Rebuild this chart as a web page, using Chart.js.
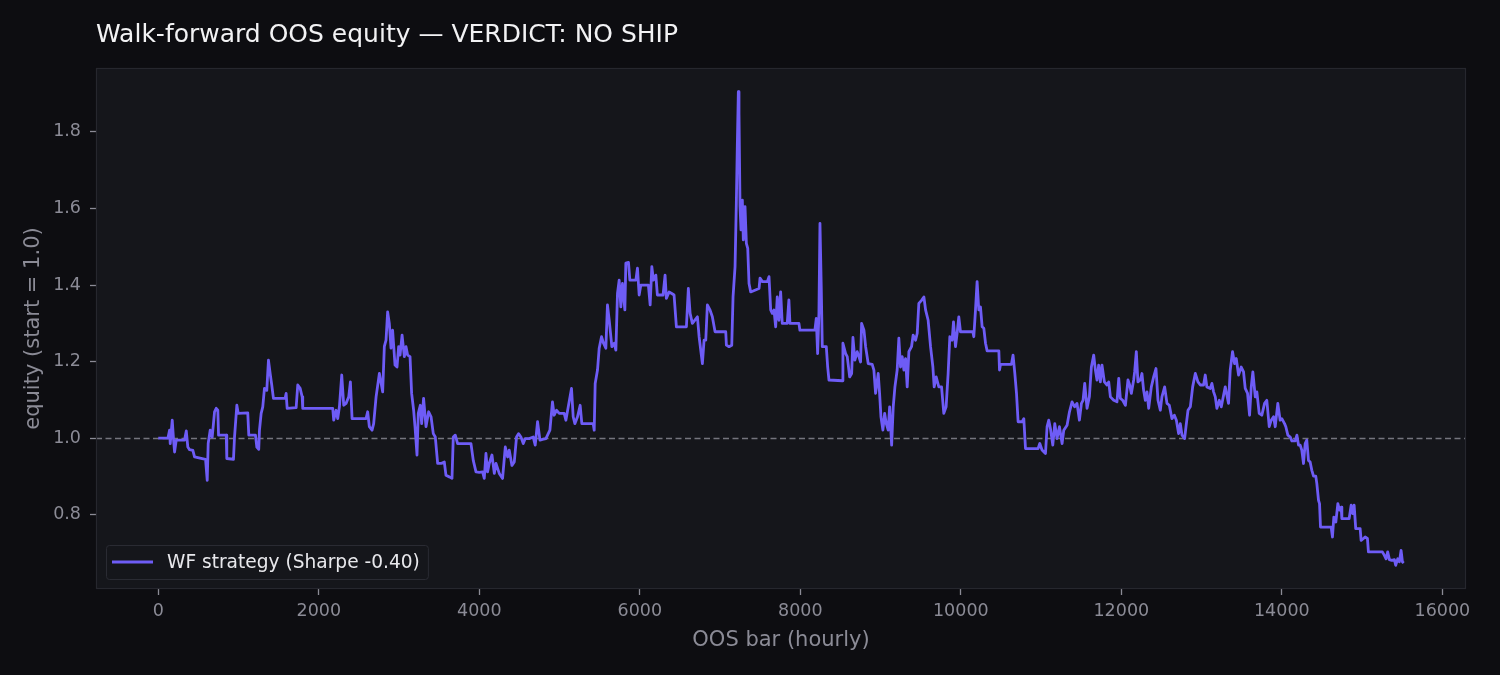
<!DOCTYPE html>
<html>
<head>
<meta charset="utf-8">
<script src="https://cdn.jsdelivr.net/npm/chart.js@4.4.1/dist/chart.umd.min.js"></script>
<style>
  html, body { margin: 0; padding: 0; background: #0d0d11; }
  #wrap { width: 1500px; height: 675px; }
</style>
</head>
<body>
<div id="wrap"><canvas id="equityChart" width="1500" height="675"></canvas></div>
<script>
// OOS bar index (hourly) and equity
const bars = [
  0, 120, 141, 149, 174, 190, 203, 224, 327, 349, 368, 390, 431, 452, 589, 610, 622, 647, 672, 701,
  722, 742, 751, 847, 854, 937, 950, 979, 996, 1115, 1128, 1211, 1228, 1252, 1261, 1282, 1302, 1323, 1352, 1373,
  1394, 1414, 1435, 1581, 1593, 1606, 1718, 1738, 1768, 1793, 1800, 2174, 2186, 2216, 2236, 2257, 2286, 2311, 2340, 2373,
  2394, 2415, 2589, 2609, 2630, 2664, 2684, 2714, 2755, 2796, 2817, 2838, 2858, 2879, 2900, 2920, 2950, 2975, 2995, 3013,
  3038, 3066, 3087, 3107, 3137, 3157, 3182, 3199, 3224, 3240, 3265, 3282, 3306, 3336, 3369, 3399, 3427, 3452, 3481, 3523,
  3564, 3585, 3626, 3660, 3676, 3701, 3730, 3896, 3925, 3959, 4000, 4041, 4062, 4083, 4103, 4124, 4158, 4187, 4208, 4249,
  4290, 4324, 4353, 4373, 4407, 4436, 4464, 4489, 4519, 4548, 4573, 4622, 4672, 4697, 4726, 4756, 4788, 4830, 4880, 4912,
  4933, 4962, 4996, 5058, 5079, 5112, 5149, 5170, 5191, 5224, 5257, 5278, 5419, 5432, 5444, 5473, 5494, 5523, 5548, 5577,
  5597, 5619, 5652, 5681, 5702, 5722, 5743, 5764, 5784, 5814, 5826, 5859, 5876, 5951, 5971, 5992, 6013, 6107, 6129, 6150,
  6170, 6200, 6219, 6290, 6315, 6331, 6365, 6398, 6427, 6456, 6581, 6605, 6627, 6655, 6718, 6739, 6780, 6801, 6822, 6842,
  6875, 6904, 6938, 7071, 7079, 7112, 7146, 7162, 7187, 7203, 7215, 7228, 7236, 7249, 7261, 7278, 7290, 7311, 7328, 7345,
  7361, 7382, 7486, 7498, 7527, 7589, 7610, 7631, 7651, 7672, 7693, 7713, 7734, 7755, 7775, 7837, 7858, 7871, 7983, 7995,
  8182, 8199, 8216, 8232, 8245, 8261, 8274, 8324, 8341, 8357, 8523, 8531, 8565, 8585, 8615, 8640, 8656, 8680, 8709, 8730,
  8751, 8764, 8793, 8814, 8846, 8896, 8917, 8938, 8971, 8988, 9005, 9029, 9051, 9071, 9095, 9113, 9138, 9158, 9179, 9207,
  9228, 9249, 9270, 9291, 9312, 9332, 9353, 9386, 9406, 9436, 9457, 9477, 9511, 9540, 9561, 9593, 9623, 9652, 9668, 9693,
  9726, 9760, 9788, 9817, 9842, 9863, 9892, 9909, 9934, 9954, 9975, 9996, 10150, 10162, 10183, 10203, 10224, 10245, 10266, 10287,
  10308, 10328, 10474, 10482, 10495, 10631, 10651, 10673, 10694, 10714, 10764, 10785, 10806, 10963, 10984, 11012, 11055, 11075, 11096, 11117,
  11146, 11171, 11199, 11229, 11262, 11283, 11324, 11354, 11386, 11419, 11448, 11478, 11503, 11523, 11544, 11573, 11602, 11627, 11656, 11677,
  11697, 11718, 11739, 11759, 11789, 11822, 11843, 11864, 11905, 11946, 11968, 11988, 12017, 12051, 12083, 12104, 12125, 12154, 12166, 12187,
  12207, 12237, 12257, 12278, 12299, 12320, 12341, 12374, 12403, 12432, 12457, 12486, 12506, 12540, 12569, 12598, 12631, 12661, 12686, 12714,
  12735, 12756, 12789, 12806, 12831, 12860, 12889, 12922, 12955, 12984, 13025, 13046, 13066, 13108, 13129, 13150, 13171, 13191, 13221, 13246,
  13274, 13295, 13336, 13357, 13386, 13411, 13432, 13461, 13494, 13523, 13544, 13573, 13598, 13619, 13639, 13669, 13689, 13718, 13751, 13785,
  13813, 13843, 13868, 13897, 13918, 13950, 13979, 14000, 14034, 14050, 14075, 14105, 14125, 14167, 14188, 14208, 14229, 14249, 14270, 14291,
  14311, 14332, 14353, 14374, 14395, 14423, 14436, 14457, 14470, 14482, 14615, 14631, 14648, 14673, 14698, 14719, 14740, 14748, 14839, 14864,
  14884, 14901, 14921, 14976, 14988, 15017, 15038, 15067, 15079, 15253, 15278, 15299, 15319, 15341, 15369, 15403, 15419, 15444, 15465, 15486,
  15503, 15519
];
const equity = [
  1.000, 1.000, 1.021, 0.986, 1.047, 0.997, 0.964, 0.995, 0.995, 1.019, 0.977, 0.970, 0.968, 0.951, 0.945, 0.890, 0.986, 1.021, 1.003, 1.069,
  1.078, 1.073, 1.008, 1.008, 0.947, 0.945, 1.003, 1.086, 1.065, 1.066, 1.008, 1.008, 0.977, 0.971, 1.021, 1.065, 1.082, 1.130, 1.125, 1.204,
  1.169, 1.139, 1.104, 1.104, 1.117, 1.078, 1.080, 1.139, 1.130, 1.108, 1.078, 1.078, 1.047, 1.073, 1.051, 1.082, 1.165, 1.086, 1.091, 1.108,
  1.147, 1.051, 1.051, 1.069, 1.030, 1.021, 1.038, 1.108, 1.169, 1.121, 1.240, 1.256, 1.330, 1.300, 1.235, 1.282, 1.191, 1.186, 1.239, 1.217,
  1.269, 1.213, 1.239, 1.217, 1.213, 1.117, 1.073, 1.030, 0.956, 1.065, 1.086, 1.038, 1.104, 1.030, 1.069, 1.056, 1.012, 1.003, 0.934, 0.934,
  0.938, 0.903, 0.899, 0.895, 1.003, 1.008, 0.986, 0.986, 0.942, 0.912, 0.911, 0.912, 0.895, 0.960, 0.912, 0.934, 0.956, 0.908, 0.934, 0.908,
  0.895, 0.977, 0.951, 0.969, 0.929, 0.938, 1.003, 1.012, 1.003, 0.986, 0.999, 0.999, 1.003, 0.982, 1.043, 0.995, 0.997, 0.999, 1.021, 1.095,
  1.060, 1.073, 1.065, 1.065, 1.047, 1.086, 1.130, 1.056, 1.038, 1.056, 1.086, 1.038, 1.038, 1.021, 1.143, 1.178, 1.235, 1.265, 1.248, 1.235,
  1.348, 1.308, 1.239, 1.248, 1.230, 1.378, 1.413, 1.343, 1.404, 1.335, 1.457, 1.459, 1.413, 1.413, 1.444, 1.374, 1.400, 1.400, 1.348, 1.448,
  1.413, 1.426, 1.374, 1.374, 1.426, 1.365, 1.382, 1.378, 1.374, 1.291, 1.291, 1.391, 1.326, 1.300, 1.317, 1.265, 1.195, 1.256, 1.256, 1.348,
  1.335, 1.317, 1.278, 1.278, 1.243, 1.239, 1.243, 1.369, 1.448, 1.614, 1.762, 1.905, 1.849, 1.605, 1.544, 1.622, 1.518, 1.605, 1.509, 1.496,
  1.404, 1.382, 1.391, 1.418, 1.409, 1.409, 1.422, 1.335, 1.326, 1.335, 1.291, 1.369, 1.308, 1.382, 1.300, 1.300, 1.361, 1.300, 1.300, 1.282,
  1.282, 1.313, 1.221, 1.326, 1.561, 1.396, 1.239, 1.239, 1.186, 1.152, 1.150, 1.248, 1.221, 1.213, 1.160, 1.169, 1.263, 1.204, 1.226, 1.213,
  1.199, 1.300, 1.282, 1.239, 1.195, 1.193, 1.178, 1.117, 1.169, 1.117, 1.056, 1.021, 1.065, 1.038, 1.021, 1.082, 0.982, 1.082, 1.134, 1.178,
  1.261, 1.186, 1.213, 1.178, 1.208, 1.134, 1.226, 1.239, 1.269, 1.256, 1.274, 1.352, 1.360, 1.369, 1.335, 1.308, 1.239, 1.186, 1.134, 1.160,
  1.134, 1.134, 1.065, 1.082, 1.169, 1.265, 1.256, 1.304, 1.239, 1.274, 1.317, 1.278, 1.278, 1.265, 1.335, 1.409, 1.335, 1.343, 1.291, 1.287,
  1.248, 1.228, 1.228, 1.178, 1.193, 1.193, 1.217, 1.169, 1.117, 1.043, 1.043, 1.051, 0.973, 0.973, 0.986, 0.969, 0.960, 1.030, 1.047, 1.025,
  0.982, 1.038, 0.999, 1.030, 0.986, 1.021, 1.034, 1.069, 1.095, 1.082, 1.091, 1.047, 1.091, 1.099, 1.143, 1.078, 1.108, 1.186, 1.217, 1.178,
  1.152, 1.191, 1.147, 1.191, 1.147, 1.139, 1.147, 1.108, 1.099, 1.095, 1.156, 1.104, 1.099, 1.086, 1.152, 1.139, 1.117, 1.152, 1.173, 1.226,
  1.147, 1.152, 1.169, 1.125, 1.099, 1.121, 1.078, 1.134, 1.160, 1.182, 1.099, 1.073, 1.108, 1.134, 1.091, 1.086, 1.051, 1.060, 1.047, 1.012,
  1.038, 1.008, 0.999, 1.030, 1.073, 1.082, 1.134, 1.169, 1.147, 1.139, 1.139, 1.165, 1.134, 1.130, 1.143, 1.121, 1.108, 1.078, 1.099, 1.082,
  1.112, 1.134, 1.091, 1.178, 1.226, 1.195, 1.208, 1.165, 1.186, 1.173, 1.130, 1.117, 1.060, 1.134, 1.173, 1.108, 1.121, 1.065, 1.060, 1.091,
  1.099, 1.030, 1.047, 1.056, 1.030, 1.091, 1.047, 1.051, 1.038, 1.030, 1.008, 1.003, 0.993, 0.993, 1.008, 0.982, 0.982, 0.969, 0.934, 0.986,
  0.995, 0.942, 0.938, 0.916, 0.901, 0.901, 0.882, 0.838, 0.829, 0.768, 0.768, 0.742, 0.794, 0.781, 0.829, 0.812, 0.820, 0.790, 0.790, 0.825,
  0.803, 0.825, 0.764, 0.764, 0.733, 0.738, 0.742, 0.738, 0.703, 0.703, 0.694, 0.685, 0.703, 0.683, 0.681, 0.683, 0.668, 0.685, 0.677, 0.707,
  0.677, 0.674
];
const xTicks = [0, 2000, 4000, 6000, 8000, 10000, 12000, 14000, 16000];
const yTicks = [0.8, 1.0, 1.2, 1.4, 1.6, 1.8];
const seriesLabel = 'WF strategy (Sharpe -0.40)';
const chartTitle = 'Walk-forward OOS equity \u2014 VERDICT: NO SHIP';
const breakEven = 1.0;

const lineColor = '#6e5cf6';
const mutedText = '#8b8b96';
const fontFamily = "'DejaVu Sans', Verdana, sans-serif";

// matplotlib style 5% margins
const xPad = 0.05 * (bars[bars.length - 1] - bars[0]);
const yMin = Math.min(...equity), yMax = Math.max(...equity);
const yPad = 0.05 * (yMax - yMin);

const points = bars.map((b, i) => ({ x: b, y: equity[i] }));

const framePlugin = {
    id: 'frame',
    beforeDraw(chart) {
        const ctx = chart.ctx, a = chart.chartArea;
        ctx.save();
        ctx.fillStyle = '#0d0d11';
        ctx.fillRect(0, 0, chart.width, chart.height);
        ctx.fillStyle = '#15161b';
        ctx.fillRect(a.left, a.top, a.right - a.left, a.bottom - a.top);
        ctx.restore();
    },
    beforeDatasetsDraw(chart) {
        const ctx = chart.ctx, a = chart.chartArea;
        const y = Math.round(chart.scales.y.getPixelForValue(breakEven)) + 0.5;
        ctx.save();
        ctx.strokeStyle = 'rgba(140,140,150,0.8)';
        ctx.lineWidth = 1.4;
        ctx.setLineDash([6, 3.5]);
        ctx.beginPath();
        ctx.moveTo(a.left, y);
        ctx.lineTo(a.right, y);
        ctx.stroke();
        ctx.restore();
    },
    afterDraw(chart) {
        const ctx = chart.ctx, a = chart.chartArea;
        ctx.save();
        ctx.strokeStyle = '#26272e';
        ctx.lineWidth = 1.2;
        ctx.strokeRect(a.left + 0.5, a.top + 0.5, a.right - a.left - 1, a.bottom - a.top - 1);

        // legend box, lower left inside the axes
        const ds = chart.data.datasets[0];
        ctx.font = '18.6px ' + fontFamily;
        const tw = ctx.measureText(ds.label).width;
        const left = a.left + 10, bottom = a.bottom - 10, h = 34;
        const top = bottom - h, w = 61 + tw + 8;
        ctx.fillStyle = 'rgba(21,22,27,0.85)';
        ctx.strokeStyle = '#2a2b33';
        ctx.lineWidth = 1;
        ctx.beginPath();
        ctx.roundRect(left + 0.5, top + 0.5, w, h, 3);
        ctx.fill();
        ctx.stroke();
        const cy = top + h / 2;
        ctx.strokeStyle = ds.borderColor;
        ctx.lineWidth = 2.8;
        ctx.beginPath();
        ctx.moveTo(left + 6, cy);
        ctx.lineTo(left + 47, cy);
        ctx.stroke();
        ctx.fillStyle = '#e8e8ec';
        ctx.textBaseline = 'middle';
        ctx.fillText(ds.label, left + 61, cy + 1);
        ctx.restore();
    }
};

const config = {
    type: 'line',
    data: {
        datasets: [{
            label: seriesLabel,
            data: points,
            borderColor: lineColor,
            backgroundColor: lineColor,
            borderWidth: 2.8,
            pointRadius: 0,
            tension: 0,
            borderJoinStyle: 'round',
            fill: false
        }]
    },
    options: {
        responsive: false,
        animation: false,
        devicePixelRatio: 1,
        layout: { padding: { left: 0, right: 34, top: 0, bottom: 0 } },
        plugins: {
            legend: { display: false },
            tooltip: { enabled: false },
            title: {
                display: true,
                text: chartTitle,
                align: 'start',
                fullSize: false,
                color: '#f2f2f4',
                font: { family: fontFamily, size: 25, weight: 'normal' },
                padding: { top: 20, bottom: 18 }
            }
        },
        scales: {
            x: {
                type: 'linear',
                min: bars[0] - xPad,
                max: bars[bars.length - 1] + xPad,
                afterBuildTicks: s => { s.ticks = xTicks.map(v => ({ value: v })); },
                afterFit: s => { s.height = 86; },
                ticks: {
                    color: mutedText,
                    font: { family: fontFamily, size: 17.5 },
                    padding: 6,
                    maxRotation: 0,
                    autoSkip: false,
                    callback: v => String(v)
                },
                grid: { drawOnChartArea: false, drawTicks: true, tickLength: 6, tickColor: mutedText, tickWidth: 1.3 },
                border: { display: false },
                title: {
                    display: true,
                    text: 'OOS bar (hourly)',
                    color: mutedText,
                    font: { family: fontFamily, size: 21 },
                    padding: { top: 0, bottom: 22 }
                }
            },
            y: {
                type: 'linear',
                min: yMin - yPad,
                max: yMax + yPad,
                afterBuildTicks: s => { s.ticks = yTicks.map(v => ({ value: v })); },
                afterFit: s => { s.width = 96; },
                ticks: {
                    color: mutedText,
                    font: { family: fontFamily, size: 17.5 },
                    padding: 9,
                    callback: v => v.toFixed(1)
                },
                grid: { drawOnChartArea: false, drawTicks: true, tickLength: 6, tickColor: mutedText, tickWidth: 1.3 },
                border: { display: false },
                title: {
                    display: true,
                    text: 'equity (start = 1.0)',
                    color: mutedText,
                    font: { family: fontFamily, size: 21 },
                    padding: { top: 21, bottom: 0 }
                }
            }
        }
    },
    plugins: [framePlugin]
};

const myChart = new Chart(document.getElementById('equityChart'), config);
</script>
</body>
</html>
